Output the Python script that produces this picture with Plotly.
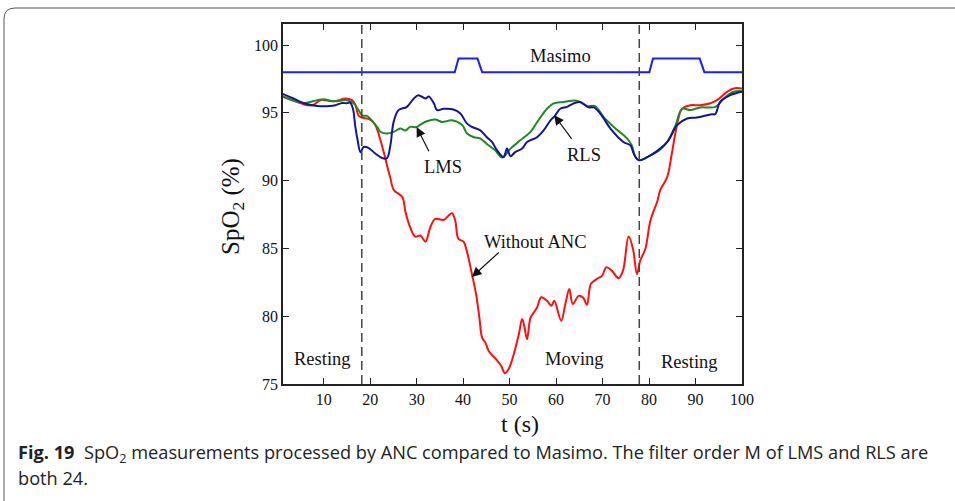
import plotly.graph_objects as go

# ---------------- data ----------------
t_red = [1.2, 4.3, 6.4, 7.8, 9.3, 12.2, 14.7, 16.1, 16.8, 17.5, 18.3, 20.0, 21.1, 22.2, 23.3, 23.8,
         24.3, 25.1, 26.9, 27.6, 28.6, 29.7, 30.8, 31.9, 32.95, 34.0, 35.8, 36.9, 37.6, 38.3,
         39.0, 40.1, 40.8, 41.9, 42.8, 43.5, 44.1, 44.8, 45.5, 47.3, 48.2, 49.0, 49.8, 50.9,
         52.0, 52.7, 53.2, 53.75, 54.5, 55.2, 55.9, 56.8, 58.05, 59.0, 59.6, 61.1, 62.0, 62.85,
         63.6, 64.85, 65.8, 66.65, 67.5, 68.8, 69.9, 70.8, 72.0, 73.45, 74.4, 75.6, 76.55, 77.4,
         78.1, 79.2, 80.3, 81.8, 82.4, 83.9, 84.9, 85.65, 86.4, 87.1, 88.9, 91.0, 93.2, 94.6,
         96.8, 98.2, 100]
spo2_red = [96.2, 95.8, 95.56, 95.6, 95.93, 95.85, 96.05, 95.93, 95.6, 94.8, 94.65, 94.5, 94.1, 93.0, 91.6, 90.9,
            90.26, 89.3, 88.8, 87.7, 86.56, 85.87, 85.95, 85.5, 86.56, 87.18, 87.1, 87.43, 87.6, 87.06,
            85.7, 85.5, 84.8, 83.1, 81.6, 79.9, 78.4, 78.05, 77.44, 76.75, 76.33, 75.8, 76.1, 77.2,
            78.68, 79.8, 79.2, 78.3, 79.9, 80.27, 80.64, 81.4, 81.14, 80.77, 81.14, 79.66, 80.9, 82.0,
            80.9, 81.5, 81.38, 80.84, 82.4, 82.75, 82.99, 83.6, 83.36, 82.8, 83.36, 85.87, 84.96, 83.1,
            84.1, 84.96, 87.05, 88.5, 89.3, 90.26, 92.0, 93.47, 94.7, 95.3, 95.56, 95.56, 95.7, 95.93,
            96.55, 96.8, 96.8]

t_lms = [1.2, 5.7, 8.6, 10.0, 12.2, 15.0, 16.45, 17.5, 18.3, 19.3, 21.5, 22.2, 23.6, 25.1, 26.5,
         27.6, 28.6, 30.0, 30.8, 32.2, 34.0, 35.5, 37.6, 39.8, 40.85, 42.3, 43.7, 45.1, 46.9, 48.4,
         50.2, 52.3, 54.5, 56.2, 58.05, 59.5, 61.6, 64.5, 66.65, 68.4, 70.2, 72.4, 75.3, 76.3,
         77.05, 78.0, 79.6, 82.1, 83.9, 85.7, 87.1, 88.9, 91.0, 94.3, 96.1, 98.2, 100]
spo2_lms = [96.2, 95.73, 95.93, 96.0, 95.85, 95.93, 95.7, 95.2, 94.8, 94.77, 93.96, 93.6, 93.47, 93.6, 93.84,
            93.7, 93.96, 93.95, 94.13, 94.38, 94.5, 94.33, 94.45, 94.1, 93.47, 93.2, 93.1, 92.7, 92.23, 91.7,
            92.36, 92.97, 93.6, 94.45, 95.3, 95.7, 95.8, 95.9, 95.5, 95.5, 94.7, 93.96, 93.1, 92.6,
            91.74, 91.5, 91.74, 92.2, 92.85, 94.08, 95.3, 95.2, 95.4, 95.44, 96.05, 96.55, 96.6]

t_rls = [1.2, 3.5, 5.7, 8.6, 11.4, 12.5, 14.0, 15.0, 15.7, 16.3, 16.8, 17.3, 17.9, 18.6, 19.7, 21.1,
         22.56, 23.6, 24.35, 25.05, 26.1, 27.9, 29.4, 30.4, 31.9, 32.6, 33.7, 34.4, 35.8, 37.95,
         39.4, 40.85, 41.9, 43.7, 45.1, 46.2, 47.3, 48.7, 49.45, 50.2, 51.2, 52.7, 53.75, 55.9,
         57.3, 58.8, 59.8, 60.9, 62.35, 63.8, 65.2, 67.0, 68.1, 69.5, 71.7, 74.5, 76.0, 76.7,
         77.8, 80.3, 82.4, 84.2, 86.0, 88.2, 90.3, 93.5, 94.25, 95.3, 97.5, 100]
spo2_rls = [96.4, 96.06, 95.7, 95.5, 95.5, 95.56, 95.73, 95.7, 95.75, 95.3, 94.0, 93.0, 92.1, 92.48, 92.4, 92.0,
            91.67, 91.65, 92.6, 94.33, 95.2, 95.44, 96.06, 96.3, 96.06, 96.2, 95.7, 95.2, 95.3, 95.24,
            94.95, 94.2, 93.96, 93.7, 93.2, 92.85, 92.23, 91.74, 92.36, 91.8, 92.1, 92.36, 92.85, 93.2,
            93.7, 94.45, 94.8, 95.3, 95.44, 95.7, 95.8, 95.4, 95.4, 94.95, 93.84, 92.85, 92.6, 92.0,
            91.5, 91.86, 92.36, 92.97, 94.08, 94.58, 94.65, 94.9, 94.9, 95.8, 96.3, 96.55]

t_masimo = [1.25, 38.2, 39.0, 43.1, 44.1, 80.06, 80.85, 90.9, 91.9, 100]
spo2_masimo = [98, 98, 99, 99, 98, 98, 99, 99, 98, 98]

phase_bounds = [18.2, 77.9]
x_ticks = [10, 20, 30, 40, 50, 60, 70, 80, 90, 100]
y_ticks = [75, 80, 85, 90, 95, 100]

# ---------------- layout geometry ----------------
L, R, T, B = 283, 742, 24, 384
W, H = 955, 501


def px(xp):
    return (xp - L) / (R - L)


def py(yp):
    return (B - yp) / (B - T)


SERIF = "Liberation Serif, Times New Roman, serif"

fig = go.Figure()
fig.add_trace(go.Scatter(x=t_masimo, y=spo2_masimo, mode="lines",
                         line=dict(color="#1c1cff", width=2), showlegend=False))
fig.add_trace(go.Scatter(x=t_red, y=spo2_red, mode="lines", line_shape="spline",
                         line=dict(color="#ff1010", width=2), showlegend=False))
fig.add_trace(go.Scatter(x=t_lms, y=spo2_lms, mode="lines", line_shape="spline",
                         line=dict(color="#1f8a1f", width=2), showlegend=False))
fig.add_trace(go.Scatter(x=t_rls, y=spo2_rls, mode="lines", line_shape="spline",
                         line=dict(color="#141496", width=2), showlegend=False))

for xb in phase_bounds:
    fig.add_shape(type="line", xref="x", yref="paper", x0=xb, x1=xb, y0=0, y1=1,
                  line=dict(color="#444444", width=1.5, dash="9px,5px"))

# outer frame (rounded corner at top-left)
fig.add_shape(type="path", xref="paper", yref="paper",
              path=f"M {px(4)},{py(520)} L {px(4)},{py(19)} Q {px(4)},{py(8)} {px(15)},{py(8)} L {px(970)},{py(8)}",
              line=dict(color="#555555", width=1))

ann_font = dict(family=SERIF, size=18.5, color="#111111")
labels = [
    ("Masimo", 60.9, 99.2),
    ("LMS", 35.75, 91.0),
    ("RLS", 65.9, 91.86),
    ("Without ANC", 55.5, 85.5),
    ("Moving", 63.9, 76.85),
    ("Resting", 9.7, 76.85),
    ("Resting", 88.8, 76.6),
]
for txt, xx, yy in labels:
    fig.add_annotation(x=xx, y=yy, text=txt, showarrow=False, font=ann_font,
                       xanchor="center", yanchor="middle")

arrows = [
    (30.0, 93.95, 32.8, 92.05),
    (59.6, 94.82, 63.6, 92.97),
    (41.9, 82.9, 48.0, 84.8),
]
for x0, y0, x1, y1 in arrows:
    fig.add_annotation(x=x0, y=y0, ax=x1, ay=y1, axref="x", ayref="y", text="",
                       showarrow=True, arrowhead=2, arrowsize=1.6, arrowwidth=1.2,
                       arrowcolor="#111111")

# axis titles
fig.add_annotation(xref="paper", yref="paper", x=px(232), y=py(207),
                   xanchor="center", yanchor="middle",
                   text="SpO<sub>2</sub> (%)", textangle=-90, showarrow=False,
                   font=dict(family=SERIF, size=25, color="#111111"))
fig.add_annotation(xref="paper", yref="paper", x=px(520), y=py(424),
                   xanchor="center", yanchor="middle",
                   text="t (s)", showarrow=False,
                   font=dict(family=SERIF, size=24, color="#111111"))

# caption
cap_font = dict(family="Open Sans, sans-serif", size=18.2, color="#222222")
fig.add_annotation(xref="paper", yref="paper", x=px(16), y=py(453), xanchor="left",
                   yanchor="middle", showarrow=False, align="left",
                   text="<b>Fig. 19</b>  SpO<sub>2</sub> measurements processed by ANC compared to Masimo. "
                        "The filter order M of LMS and RLS are",
                   font=cap_font)
fig.add_annotation(xref="paper", yref="paper", x=px(16), y=py(478), xanchor="left",
                   yanchor="middle", showarrow=False, align="left",
                   text="both 24.", font=cap_font)

axis_common = dict(showline=True, linecolor="#222222", linewidth=1.5, mirror="ticks",
                   ticks="inside", ticklen=6, tickwidth=1.2, tickcolor="#222222",
                   showgrid=False, zeroline=False,
                   tickfont=dict(family=SERIF, size=16, color="#111111"))

fig.update_xaxes(range=[1.25, 100], tickvals=x_ticks, ticktext=[str(v) for v in x_ticks],
                 **axis_common)
fig.update_yaxes(range=[75, 101.55], tickvals=y_ticks, ticktext=[str(v) for v in y_ticks],
                 **axis_common)

fig.update_layout(width=W, height=H, margin=dict(l=L, r=W - R, t=T, b=H - B),
                  plot_bgcolor="white", paper_bgcolor="white", showlegend=False)

fig.write_html("out.html")
